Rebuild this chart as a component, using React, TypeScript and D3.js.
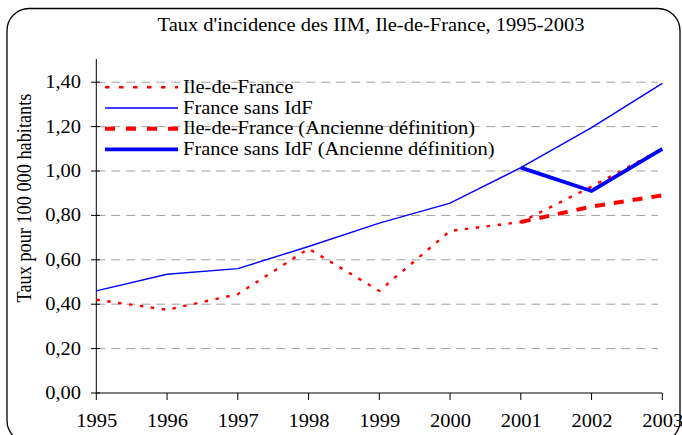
import React from "react";
import * as d3 from "d3";

const years = [1995, 1996, 1997, 1998, 1999, 2000, 2001, 2002, 2003];
const idf = [0.42, 0.375, 0.445, 0.65, 0.46, 0.73, 0.77, 0.93, 1.1];
const franceSansIdf = [0.46, 0.535, 0.56, 0.66, 0.765, 0.855, 1.015, 1.195, 1.395];
const oldYears = [2001, 2002, 2003];
const idfOld = [0.77, 0.84, 0.89];
const franceOld = [1.015, 0.91, 1.1];
const yTicks = [0, 0.2, 0.4, 0.6, 0.8, 1.0, 1.2, 1.4];
const legendLabels = [
  "Ile-de-France",
  "France sans IdF",
  "Ile-de-France (Ancienne définition)",
  "France sans IdF (Ancienne définition)",
];

const W = 682;
const H = 435;
const font = "'Liberation Serif', 'Times New Roman', serif";
const FS = 18.3;
const SX = 1.12;

function T(props: { x: number; y: number; anchor?: string; children: React.ReactNode }) {
  return (
    <text
      transform={`translate(${props.x},${props.y}) scale(${SX},1)`}
      textAnchor={props.anchor || "start"}
      fontFamily={font}
      fontSize={FS}
      fill="#000"
    >
      {props.children}
    </text>
  );
}

export default function App() {
  const x = d3.scaleLinear().domain([1995, 2003]).range([96.3, 662.3]);
  const y = d3.scaleLinear().domain([0, 1.5]).range([393, 60]);
  const line = d3
    .line<[number, number]>()
    .x((d) => x(d[0]))
    .y((d) => y(d[1]));
  const zip = (xs: number[], ys: number[]) => xs.map((v, i) => [v, ys[i]] as [number, number]);

  const styles = [
    { stroke: "#ff0000", width: 2.4, dash: "3.5,7.5", ldash: "4.5,9.5" },
    { stroke: "#0000ff", width: 1.4, dash: "", ldash: "" },
    { stroke: "#ff0000", width: 4, dash: "10,9", ldash: "10,11" },
    { stroke: "#0000ff", width: 3.8, dash: "", ldash: "" },
  ];
  const series = [
    zip(years, idf),
    zip(years, franceSansIdf),
    zip(oldYears, idfOld),
    zip(oldYears, franceOld),
  ];

  return (
    <div style={{ position: "absolute", left: 0, top: 0 }}>
      <svg width={W} height={H} style={{ display: "block", background: "#fff" }}>
        <rect x={7} y={8.5} width={673} height={434} rx={22} ry={22} fill="#fff" stroke="#000" strokeWidth={1.3} />
        <T x={371} y={31} anchor="middle">
          Taux d'incidence des IIM, Ile-de-France, 1995-2003
        </T>
        <text
          transform={`translate(31,198) rotate(-90) scale(1,${SX})`}
          textAnchor="middle"
          fontFamily={font}
          fontSize={FS}
        >
          Taux pour 100 000 habitants
        </text>
        {yTicks.filter((t) => t > 0).map((t) => (
          <line key={"g" + t} x1={x(1995)} x2={658} y1={y(t)} y2={y(t)} stroke="#a0a0a0" strokeWidth={1} strokeDasharray="9,6" />
        ))}
        <line x1={x(1995)} x2={x(1995)} y1={59} y2={y(0)} stroke="#000" strokeWidth={1} />
        <line x1={x(1995)} x2={x(2003)} y1={y(0)} y2={y(0)} stroke="#000" strokeWidth={1} />
        {yTicks.map((t) => (
          <g key={"yt" + t}>
            <line x1={91} x2={100} y1={y(t)} y2={y(t)} stroke="#000" />
            <T x={81} y={y(t) + 6} anchor="end">
              {d3.format(".2f")(t).replace(".", ",")}
            </T>
          </g>
        ))}
        {years.map((yr) => (
          <g key={"xt" + yr}>
            <line x1={x(yr)} x2={x(yr)} y1={y(0)} y2={y(0) + 7} stroke="#000" />
            <T x={x(yr) + 0.5} y={y(0) + 34}>
              <tspan textAnchor="middle">{yr}</tspan>
            </T>
          </g>
        ))}
        {series.map((s, i) => (
          <path
            key={"s" + i}
            d={line(s) || ""}
            fill="none"
            stroke={styles[i].stroke}
            strokeWidth={styles[i].width}
            strokeDasharray={styles[i].dash || undefined}
          />
        ))}
        {legendLabels.map((lab, i) => {
          const ly = 87.3 + i * 20.7;
          return (
            <g key={"lg" + i}>
              <line
                x1={105}
                x2={178}
                y1={ly}
                y2={ly}
                stroke={styles[i].stroke}
                strokeWidth={styles[i].width}
                strokeDasharray={styles[i].ldash || undefined}
              />
              <T x={183} y={ly + 5.5}>
                {lab}
              </T>
            </g>
          );
        })}
      </svg>
    </div>
  );
}
